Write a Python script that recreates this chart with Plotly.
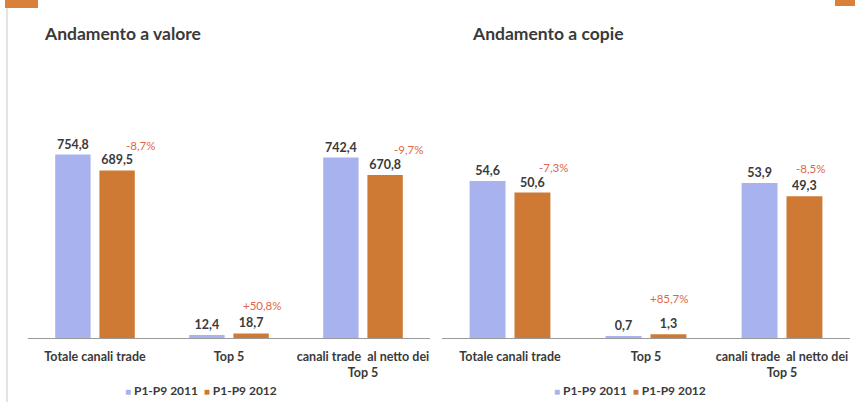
import plotly.graph_objects as go

W, H = 855, 402

categories = ["Totale canali trade", "Top 5", "canali trade  al netto dei<br>Top 5"]
series_names = ["P1-P9 2011", "P1-P9 2012"]
valore_2011 = [754.8, 12.4, 742.4]
valore_2012 = [689.5, 18.7, 670.8]
copie_2011 = [54.6, 0.7, 53.9]
copie_2012 = [50.6, 1.3, 49.3]
valore_pct = ["-8,7%", "+50,8%", "-9,7%"]
copie_pct = ["-7,3%", "+85,7%", "-8,5%"]
titles = ["Andamento a valore", "Andamento a copie"]

BLUE = "#a8b2ee"
ORANGE = "#cf7a34"
PCT = "#e0664a"
TXT = "#3a3a3a"
FONT = "Lato"

def px_x(x):
    return x / W

def px_y(y):
    return 1 - y / H

fig = go.Figure()

panels = [
    (valore_2011, valore_2012, valore_pct, "x", "y"),
    (copie_2011, copie_2012, copie_pct, "x2", "y2"),
]
for v11, v12, pct, xa, ya in panels:
    for vals, name, col in [(v11, series_names[0], BLUE), (v12, series_names[1], ORANGE)]:
        fig.add_trace(go.Bar(
            x=categories, y=vals, name=name, marker_color=col, marker_line_width=0,
            xaxis=xa, yaxis=ya, showlegend=False,
            texttemplate="%{y:.1f}", textposition="outside", cliponaxis=False,
            textfont=dict(family=FONT, size=12.5, color=TXT, weight="bold"),
        ))

# percent change labels placed relative to 2012 bars (offsets in px from the orange bar)
ORANGE_OFFSET = 22
pct_shift = {
    "x": [(23, 25), (11, 28), (23, 25)],
    "x2": [(21, 25), (1, 36), (6, 28)],
}
for v11, v12, pct, xa, ya in panels:
    for i, cat in enumerate(categories):
        dx, dy = pct_shift[xa][i]
        fig.add_annotation(
            x=cat, y=v12[i], xref=xa, yref=ya, text=pct[i], showarrow=False,
            xshift=ORANGE_OFFSET + dx, yshift=dy, font=dict(family=FONT, size=11.5, color=PCT),
        )

# titles
for tx, t in zip((42, 470), titles):
    fig.add_annotation(x=px_x(tx), y=px_y(33), xref="paper", yref="paper", xanchor="left",
                       yanchor="middle", text=t, showarrow=False,
                       font=dict(family=FONT, size=17.5, color=TXT, weight="bold"))

# legends (drawn as text)
for cx in (201, 630):
    fig.add_annotation(
        x=px_x(cx), y=px_y(390), xref="paper", yref="paper", showarrow=False,
        xanchor="center", yanchor="middle",
        text=(f"<span style='color:{BLUE};font-size:10px'>■</span> {series_names[0]}  "
              f"<span style='color:{ORANGE};font-size:10px'>■</span> {series_names[1]}"),
        font=dict(family=FONT, size=12, color=TXT, weight="bold"),
    )

# decorations
shapes = [
    dict(type="rect", xref="paper", yref="paper", x0=px_x(5), x1=px_x(38), y0=px_y(8), y1=px_y(0),
         fillcolor="#d9813a", line_width=0),
    dict(type="rect", xref="paper", yref="paper", x0=px_x(835), x1=px_x(855), y0=px_y(6), y1=px_y(0),
         fillcolor="#d9813a", line_width=0),
    dict(type="line", xref="paper", yref="paper", x0=px_x(7), x1=px_x(7), y0=px_y(8), y1=px_y(402),
         line=dict(color="#c8c8c8", width=1)),
]

ybot = px_y(338)
ytop = px_y(60)
axis_common = dict(showline=True, linecolor="#9a9a9a", linewidth=1, ticks="", showgrid=False,
                   ticklabelstandoff=7,
                   tickfont=dict(family=FONT, size=12.5, color=TXT, weight="bold"), fixedrange=True)
yaxis_common = dict(visible=False, showgrid=False, zeroline=False, domain=[ybot, ytop])

fig.update_layout(
    width=W, height=H, margin=dict(l=0, r=0, t=0, b=0),
    paper_bgcolor="white", plot_bgcolor="white",
    separators=",.",
    barmode="group", bargap=0.34, bargroupgap=0.2,
    xaxis=dict(domain=[px_x(28), px_x(430)], anchor="y", **axis_common),
    xaxis2=dict(domain=[px_x(442), px_x(850)], anchor="y2", **axis_common),
    yaxis=dict(range=[0, 1144], anchor="x", **yaxis_common),
    yaxis2=dict(range=[0, 96.7], anchor="x2", **yaxis_common),
    shapes=shapes,
    showlegend=False,
    font=dict(family=FONT),
)

fig.write_html("out.html")
